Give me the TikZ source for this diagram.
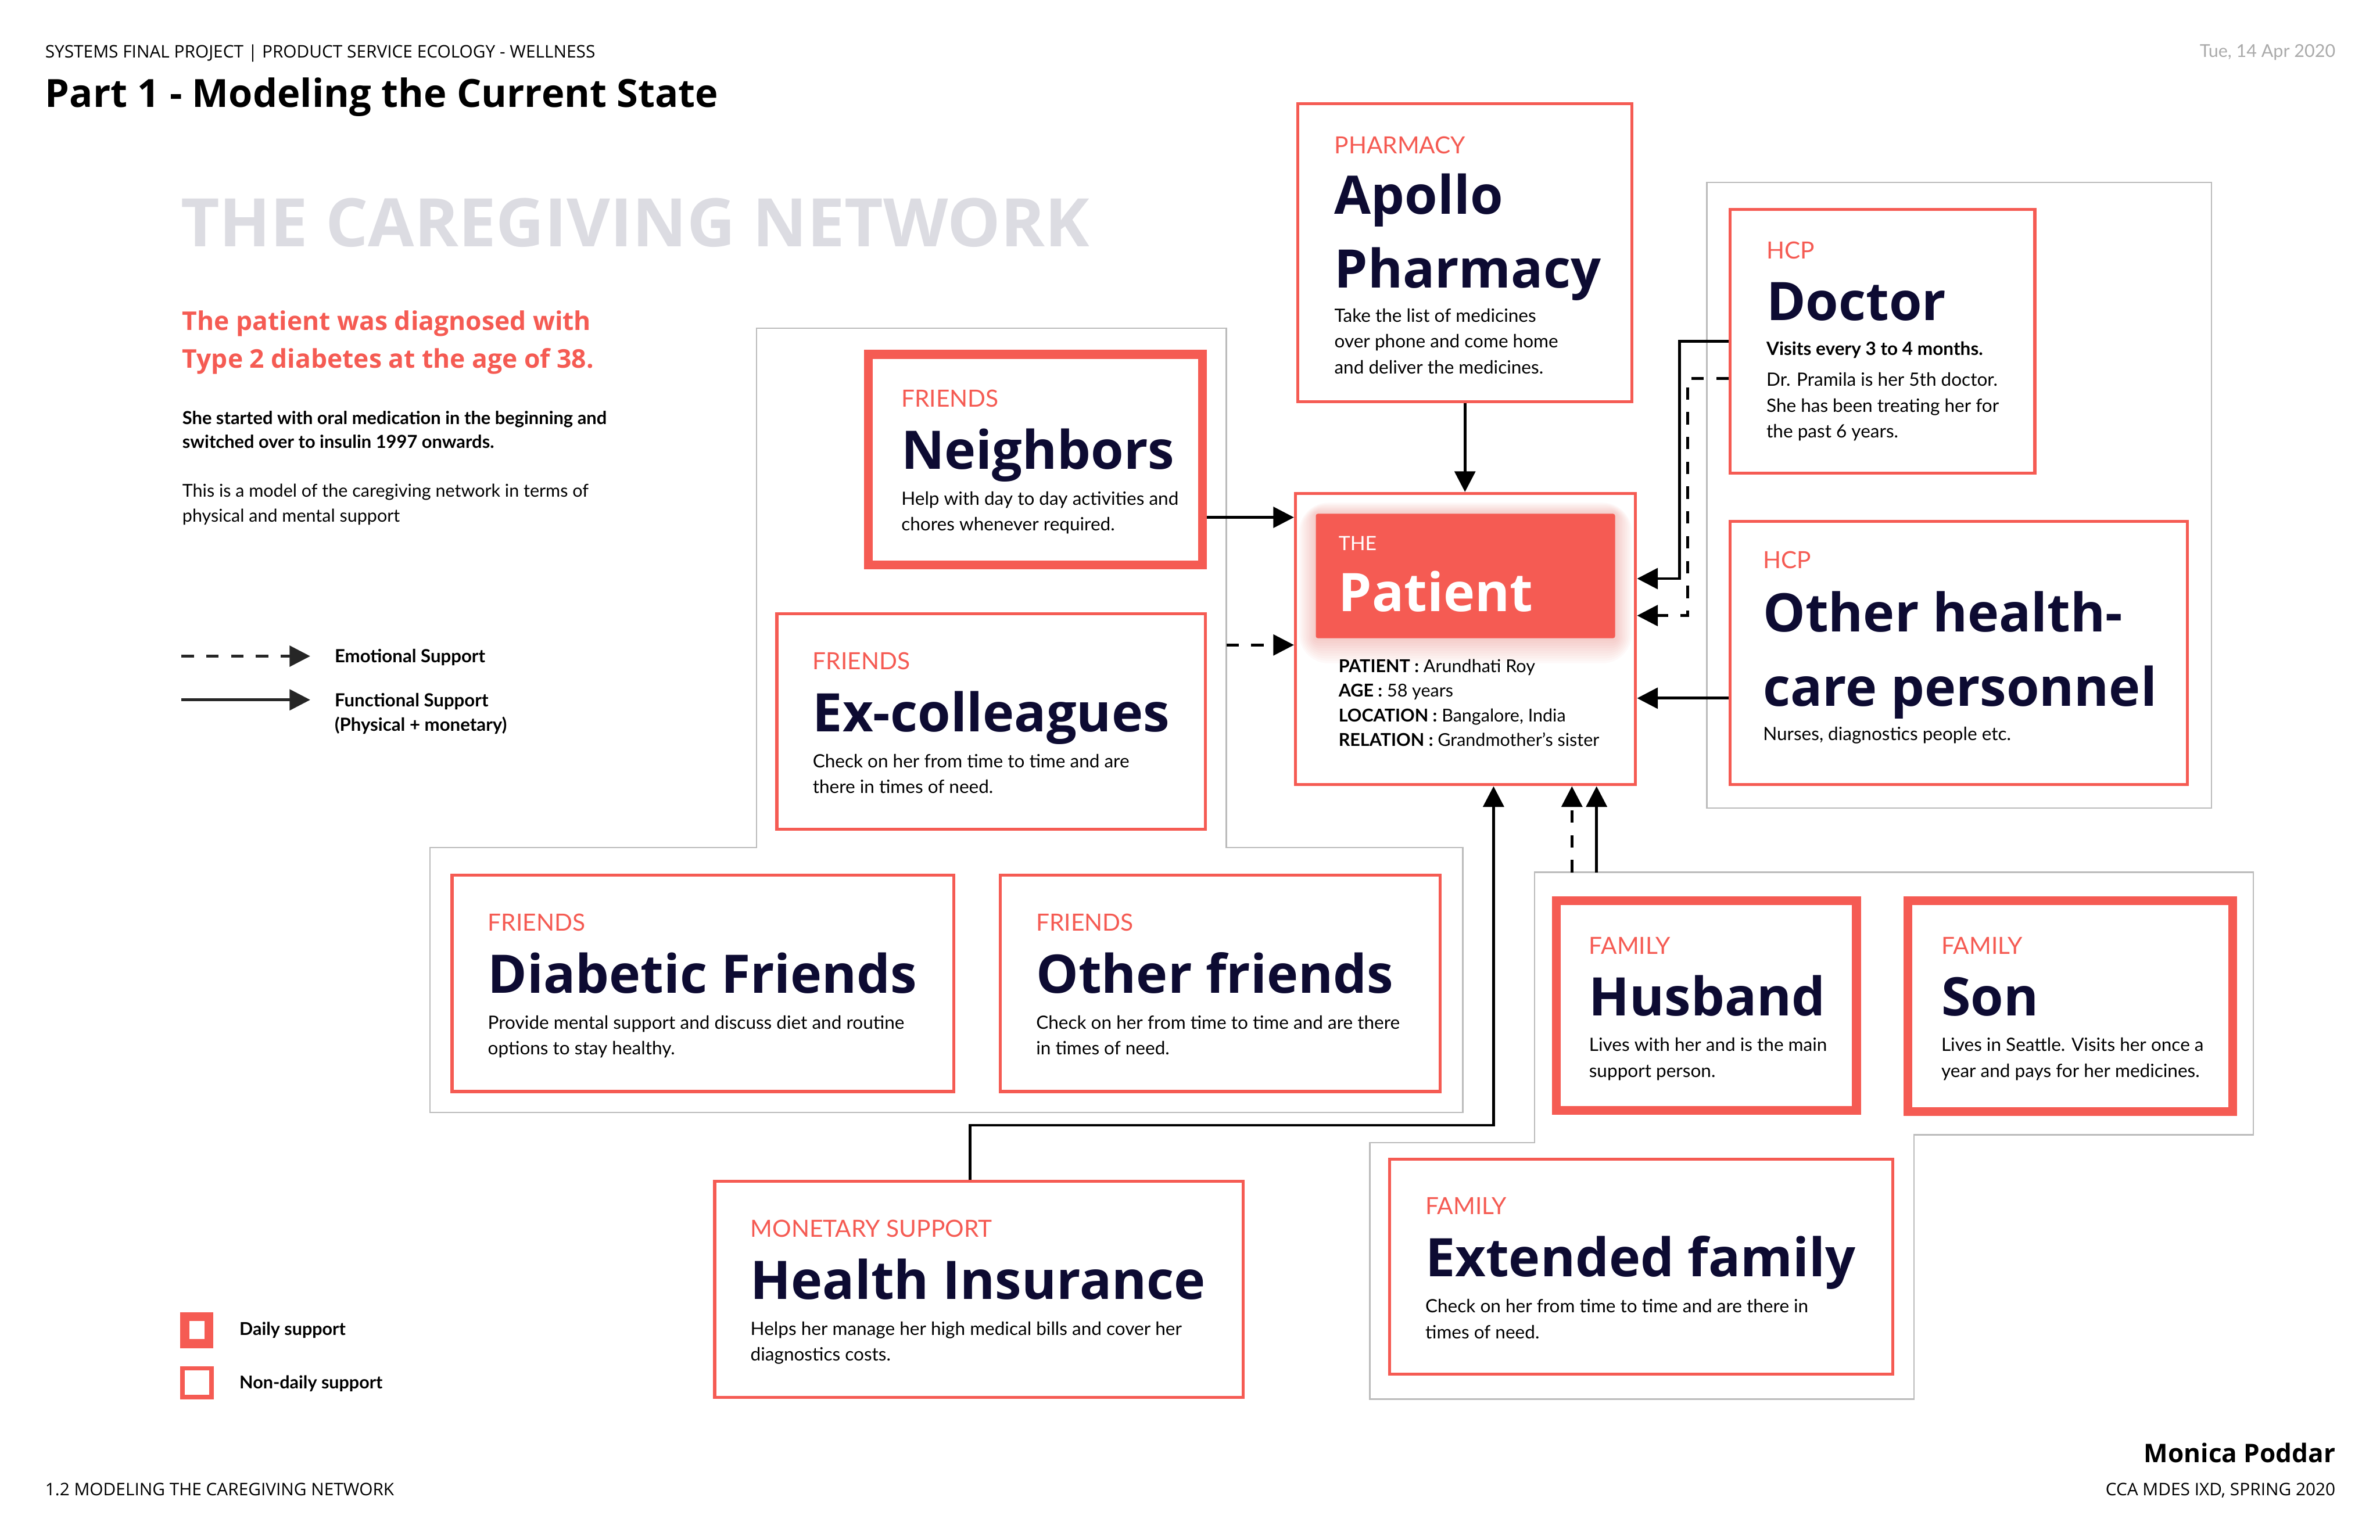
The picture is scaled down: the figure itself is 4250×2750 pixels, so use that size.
\documentclass[tikz,border=0pt]{standalone}
\usepackage{fontspec}
\setmainfont{Lato}
\newfontfamily\osans{Open Sans}
\usetikzlibrary{arrows.meta,positioning,calc}

\definecolor{coral}{RGB}{245,91,83}
\definecolor{navy}{RGB}{13,11,50}
\definecolor{grp}{RGB}{187,187,187}
\definecolor{ghost}{RGB}{220,220,226}
\definecolor{datec}{RGB}{170,170,170}

\begin{document}
\begin{tikzpicture}[x=0.01cm,y=-0.01cm,>={Triangle[length=10.5pt,width=10.5pt]},
  card/.style={draw=coral,fill=white,line width=1.5pt,inner sep=0pt},
  daily/.style={card,line width=4.5pt},
  group/.style={draw=grp,line width=0.7pt},
  txt/.style={anchor=base west,inner sep=0pt,align=left},
  cat/.style={txt,text=coral,font=\fontsize{12}{14}\selectfont},
  ttl/.style={txt,text=navy,font=\osans\bfseries\fontsize{27}{37.5}\selectfont},
  dsc/.style={txt,font=\fontsize{9.3}{13.1}\selectfont},
  fn/.style={->,line width=1.45pt},
  em/.style={fn,dash pattern=on 6.3pt off 6.3pt}]
\useasboundingbox (0,0) rectangle (4250,2750);
\fill[white] (0,0) rectangle (4250,2750);

% header and intro (multi-line texts sit on their last baseline)
\node[txt,font=\osans\fontsize{8.8}{11}\selectfont] (hdr) at (80,103) {SYSTEMS FINAL PROJECT | PRODUCT SERVICE ECOLOGY - WELLNESS};
\node[txt,font=\osans\bfseries\fontsize{19.7}{24}\selectfont] (part) at (80,191) {Part 1 - Modeling the Current State};
\node[anchor=base east,inner sep=0pt,text=datec,font=\fontsize{9}{11}\selectfont] (date) at (4171,102) {Tue, 14 Apr 2020};
\node[txt,text=ghost,font=\osans\bfseries\fontsize{34}{40}\selectfont] (net) at (322,440) {THE CAREGIVING NETWORK};
\node[txt,text=coral,font=\osans\bfseries\fontsize{13.1}{19}\selectfont] (intro) at (325,657) {The patient was diagnosed with\\Type 2 diabetes at the age of 38.};
\node[txt,font=\bfseries\fontsize{9.1}{12.1}\selectfont] (med) at (325,800) {She started with oral medication in the beginning and\\switched over to insulin 1997 onwards.};
\node[txt,font=\fontsize{9}{12.5}\selectfont] (model) at (325,932) {This is a model of the caregiving network in terms of\\physical and mental support};

% legend
\node[txt,font=\bfseries\fontsize{9.2}{12.4}\selectfont] (emo) at (597,1183) {Emotional Support};
\node[txt,font=\bfseries\fontsize{9.2}{12.4}\selectfont] (fun) at (597,1306) {Functional Support\\(Physical + monetary)};
\coordinate (emo0) at (324,1172);
\coordinate (fun0) at (324,1250);
\draw[em,black!85] (emo0) -- ([xshift=-0.43cm]emo.west |- emo0);
\draw[fn,black!85] (fun0) -- ([xshift=-0.43cm]emo.west |- fun0);
\node[daily,minimum width=0.43cm,minimum height=0.48cm] (dly) at (351.5,2376) {};
\node[card,line width=2.3pt,minimum width=0.52cm,minimum height=0.51cm] (ndl) at (352,2469.5) {};
\node[txt,font=\bfseries\fontsize{9}{11}\selectfont] (dlytxt) at (427,2385) {Daily support};
\node[txt,font=\bfseries\fontsize{9}{11}\selectfont] (ndltxt) at (427,2480) {Non-daily support};

% footer
\node[txt,font=\osans\fontsize{8.8}{11}\selectfont] (foot) at (80,2671) {1.2 MODELING THE CAREGIVING NETWORK};
\node[anchor=base east,inner sep=0pt,font=\osans\bfseries\fontsize{13}{15}\selectfont] (auth) at (4171,2612) {Monica Poddar};
\node[anchor=base east,inner sep=0pt,font=\osans\fontsize{8.8}{11}\selectfont] (cca) at (4171,2671) {CCA MDES IXD, SPRING 2020};

% groups
\draw[group] (3048,326) rectangle (3949,1443);
\draw[group] (1351,586) -- (2190,586) -- (2190,1514) -- (2612,1514) -- (2612,1987)
  -- (768,1987) -- (768,1514) -- (1351,1514) -- cycle;
\draw[group] (2740,1558) -- (4024,1558) -- (4024,2027) -- (3418,2027) -- (3418,2499)
  -- (2446,2499) -- (2446,2041) -- (2740,2041) -- cycle;

% cards
\node[card,minimum width=5.96cm,minimum height=5.32cm] (ph) at (2616,451) {};
\node[card,minimum width=6.07cm,minimum height=5.20cm] (pt) at (2617,1141.5) {};
\node[card,minimum width=5.44cm,minimum height=4.70cm] (doc) at (3361.5,609.5) {};
\node[card,minimum width=8.16cm,minimum height=4.70cm] (oh) at (3497.5,1166.5) {};
\node[daily,minimum width=5.96cm,minimum height=3.76cm] (nb) at (1849,821) {};
\node[card,minimum width=7.65cm,minimum height=3.85cm] (exc) at (1770,1289) {};
\node[card,minimum width=8.95cm,minimum height=3.86cm] (dia) at (1255,1756.5) {};
\node[card,minimum width=7.85cm,minimum height=3.86cm] (oth) at (2179,1756.5) {};
\node[card,minimum width=9.43cm,minimum height=3.85cm] (hi) at (1748,2303) {};
\node[daily,minimum width=5.36cm,minimum height=3.74cm] (hus) at (3047,1796) {};
\node[daily,minimum width=5.80cm,minimum height=3.76cm] (son) at (3697,1797) {};
\node[card,minimum width=8.98cm,minimum height=3.84cm] (ext) at (2930.5,2262.5) {};

% patient
\node[fill=coral,rounded corners=1pt,minimum width=5.34cm,minimum height=2.22cm,anchor=north west,inner sep=0pt,outer sep=0pt] (ptbar) at ($(pt.north west)+(39,39)$) {};
\foreach \g in {1,...,10}
  \fill[coral,opacity=0.03,rounded corners=\g*1.5pt] ($(ptbar.north west)+(-\g*3,-\g*2)$) rectangle ($(ptbar.south east)+(\g*3,\g*4.5)$);
\node[txt,text=white,font=\fontsize{10}{12}\selectfont] (ptcat) at ($(pt.north west)+(79,104)$) {THE};
\node[txt,text=white,font=\osans\bfseries\fontsize{27}{32}\selectfont] (ptttl) at ($(pt.north west)+(79,213)$) {Patient};
\node[dsc,font=\fontsize{9}{12.5}\selectfont] (ptdsc) at ($(pt.north west)+(79,454)$) {\textbf{PATIENT :} Arundhati Roy\\\textbf{AGE :} 58 years\\\textbf{LOCATION :} Bangalore, India\\\textbf{RELATION :} Grandmother’s sister};

% card texts
\node[cat] (phcat) at ($(ph.north west)+(67,92)$) {PHARMACY};
\node[ttl] (phttl) at ($(ph.north west)+(67,332)$) {Apollo\\Pharmacy};
\node[dsc] (phdsc) at ($(ph.north west)+(67,485)$) {Take the list of medicines\\over phone and come home\\and deliver the medicines.};

\node[cat] (doccat) at ($(doc.north west)+(67,91)$) {HCP};
\node[ttl] (docttl) at ($(doc.north west)+(67,201)$) {Doctor};
\node[dsc,font=\bfseries\fontsize{9.3}{13.1}\selectfont] (docvis) at ($(doc.north west)+(67,263)$) {Visits every 3 to 4 months.};
\node[dsc] (docdsc) at ($(doc.north west)+(67,410)$) {Dr. Pramila is her 5th doctor.\\She has been treating her for\\the past 6 years.};

\node[cat] (ohcat) at ($(oh.north west)+(61,87)$) {HCP};
\node[ttl] (ohttl) at ($(oh.north west)+(61,332)$) {Other health-\\care personnel};
\node[dsc] (ohdsc) at ($(oh.north west)+(61,394)$) {Nurses, diagnostics people etc.};

\node[cat] (nbcat) at ($(nb.north west)+(66,102)$) {FRIENDS};
\node[ttl] (nbttl) at ($(nb.north west)+(66,213)$) {Neighbors};
\node[dsc] (nbdsc) at ($(nb.north west)+(66,323)$) {Help with day to day activities and\\chores whenever required.};

\node[cat] (exccat) at ($(exc.north west)+(66,102)$) {FRIENDS};
\node[ttl] (excttl) at ($(exc.north west)+(66,213)$) {Ex-colleagues};
\node[dsc] (excdsc) at ($(exc.north west)+(66,323)$) {Check on her from time to time and are\\there in times of need.};

\node[cat] (diacat) at ($(dia.north west)+(66,102)$) {FRIENDS};
\node[ttl] (diattl) at ($(dia.north west)+(66,213)$) {Diabetic Friends};
\node[dsc] (diadsc) at ($(dia.north west)+(66,323)$) {Provide mental support and discuss diet and routine\\options to stay healthy.};

\node[cat] (othcat) at ($(oth.north west)+(66,102)$) {FRIENDS};
\node[ttl] (othttl) at ($(oth.north west)+(66,213)$) {Other friends};
\node[dsc] (othdsc) at ($(oth.north west)+(66,323)$) {Check on her from time to time and are there\\in times of need.};

\node[cat] (hicat) at ($(hi.north west)+(66,102)$) {MONETARY SUPPORT};
\node[ttl] (hittl) at ($(hi.north west)+(66,213)$) {Health Insurance};
\node[dsc] (hidsc) at ($(hi.north west)+(66,323)$) {Helps her manage her high medical bills and cover her\\diagnostics costs.};

\node[cat] (huscat) at ($(hus.north west)+(66,103)$) {FAMILY};
\node[ttl] (husttl) at ($(hus.north west)+(66,213)$) {Husband};
\node[dsc] (husdsc) at ($(hus.north west)+(66,323)$) {Lives with her and is the main\\support person.};

\node[cat] (soncat) at ($(son.north west)+(67,103)$) {FAMILY};
\node[ttl] (sonttl) at ($(son.north west)+(67,213)$) {Son};
\node[dsc] (sondsc) at ($(son.north west)+(67,323)$) {Lives in Seattle. Visits her once a\\year and pays for her medicines.};

\node[cat] (extcat) at ($(ext.north west)+(66,101)$) {FAMILY};
\node[ttl] (extttl) at ($(ext.north west)+(66,212)$) {Extended family};
\node[dsc] (extdsc) at ($(ext.north west)+(66,323)$) {Check on her from time to time and are there in\\times of need.};

% support arrows
\draw[fn] (ph.south) -- (ph.south |- pt.north);
\draw[fn] ([yshift=-1.03cm]nb.east) -- ([yshift=-1.03cm]nb.east -| pt.west);
\coordinate (fgr) at (2190,1152);
\draw[em] (fgr) -- (fgr -| pt.west);
\draw[fn] (doc.west) -- ++(-88,0) |- ([yshift=1.08cm]pt.east);
\draw[em] ([yshift=-0.665cm]doc.west) -- ++(-73,0) |- ([yshift=0.42cm]pt.east);
\draw[fn] ([yshift=-0.805cm]oh.west) -- ([yshift=-0.805cm]oh.west -| pt.east);
\draw[fn] ([xshift=-0.16cm]hi.north) -- ++(0,-98) -| ([xshift=0.5cm]pt.south);
\coordinate (fam1) at (2807,1558);
\coordinate (fam2) at (2851,1558);
\draw[em] (fam1) -- (fam1 |- pt.south);
\draw[fn] (fam2) -- (fam2 |- pt.south);
\end{tikzpicture}
\end{document}
